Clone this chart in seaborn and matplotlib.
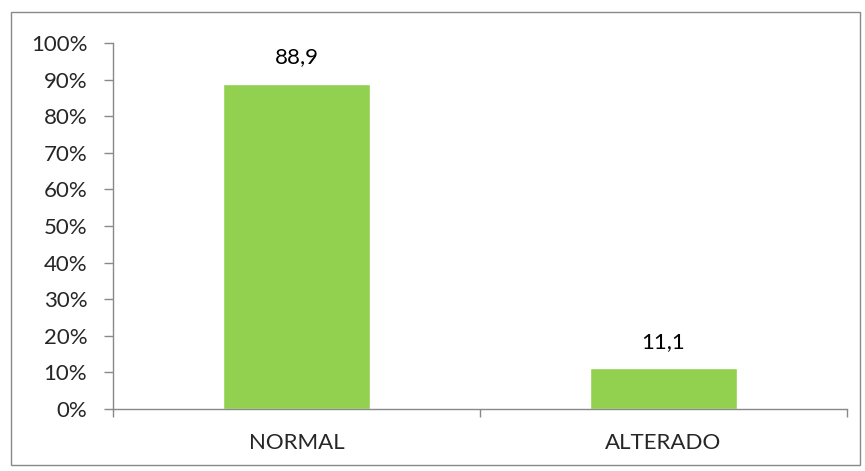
import matplotlib
matplotlib.use("Agg")
import matplotlib.pyplot as plt
import seaborn as sns
from matplotlib.patches import Rectangle
from matplotlib.ticker import FixedLocator, PercentFormatter

categories = ["NORMAL", "ALTERADO"]
values = [88.9, 11.1]
labels = ["88,9", "11,1"]

sns.set_style("white")
plt.rcParams['font.family'] = ['Lato', 'DejaVu Sans']

fig = plt.figure(figsize=(8.65, 4.71), dpi=100)
W, H = 865, 471
ax = fig.add_axes([113 / W, 1 - 409 / H, (847 - 113) / W, (409 - 43) / H])

fracs = [v / 100 for v in values]
sns.barplot(x=categories, y=fracs, color="#92D050", width=0.4, ax=ax, saturation=1)

FS = 16
ax.set_xlim(-0.5, 1.5)
ax.set_ylim(0, 1)
ax.yaxis.set_major_locator(FixedLocator([i / 10 for i in range(11)]))
ax.yaxis.set_major_formatter(PercentFormatter(1.0, decimals=0))
ax.tick_params(axis='y', length=6.5, width=1, color='#898989', labelsize=FS, pad=12, left=True)

ax.set_xticks([0, 1])
ax.set_xticklabels(categories)
ax.tick_params(axis='x', which='major', length=0, labelsize=FS, pad=17)
ax.set_xticks([-0.5, 0.5, 1.5], minor=True)
ax.tick_params(axis='x', which='minor', length=6, width=1, color='#898989', bottom=True)

for s in ['top', 'right']:
    ax.spines[s].set_visible(False)
for s in ['left', 'bottom']:
    ax.spines[s].set_color('#898989')
    ax.spines[s].set_linewidth(1)

for i, (f, lab) in enumerate(zip(fracs, labels)):
    ax.text(i, f + 0.045, lab, ha='center', va='bottom', fontsize=FS, color='black')

ax.set_xlabel("")
ax.set_ylabel("")

fig.patches.append(Rectangle((11 / W, 1 - 465 / H), (860 - 11) / W, (465 - 12) / H,
                             transform=fig.transFigure, fill=False,
                             edgecolor='#898989', linewidth=1))

fig.savefig("out.png", dpi=100)
